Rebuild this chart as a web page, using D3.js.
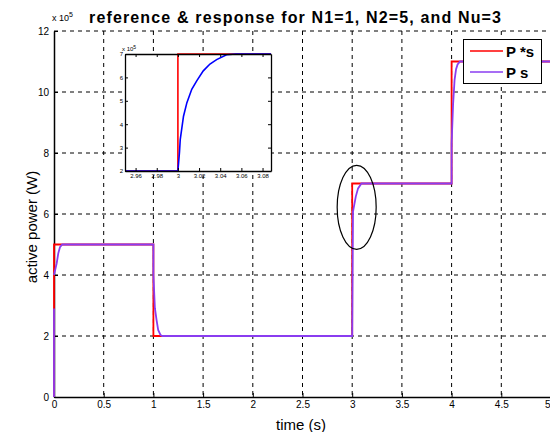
<!DOCTYPE html>
<html>
<head>
<meta charset="utf-8">
<script src="https://cdn.jsdelivr.net/npm/d3@7"></script>
<style>
  html, body { margin: 0; padding: 0; background: #fff; }
  svg { display: block; font-family: "Liberation Sans", Arial, sans-serif; }
</style>
</head>
<body>
<svg id="chart" width="550" height="432"></svg>
<script>
// Reference power step (P*s), in units of 1e5 W
const refTime  = [0, 0, 1, 1, 3, 3, 4, 4, 5];
const refPower = [0, 5, 5, 2, 2, 7, 7, 11, 11];

// Controlled response (Ps); the null splits the trace at start-up
const respTime  = [0, 0, null, 0, 0.027, 0.043, 0.06, 0.083, 1.0, 1.0, 1.015, 1.032, 1.048, 1.072, 1.09,
                   3.0, 3.008, 3.036, 3.059, 3.093, 4.0, 4.0, 4.015, 4.03, 4.045, 4.06, 4.085, 5];
const respPower = [0, 2.9, null, 4.0, 4.38, 4.71, 4.91, 5.0, 5.0, 4.0, 2.91, 2.52, 2.2, 2.03, 2.0,
                   2.0, 6.08, 6.57, 6.84, 7.0, 7.0, 8.3, 9.6, 10.4, 10.75, 10.9, 11.0, 11.0];

// Zoomed view around the step at t = 3 s
const zoomRefTime   = [2.95, 3.0, 3.0, 3.088];
const zoomRefPower  = [2, 2, 7, 7];
const zoomRespTime  = [2.95, 3.0, 3.0015, 3.0022, 3.0053, 3.0085, 3.0131, 3.0178, 3.024, 3.0303, 3.0366, 3.046, 3.055, 3.088];
const zoomRespPower = [2, 2, 2.8, 3.34, 4.34, 4.92, 5.49, 5.85, 6.28, 6.57, 6.76, 6.97, 7.0, 7.0];

// Tick values and labels
const xTicks = [0, 0.5, 1, 1.5, 2, 2.5, 3, 3.5, 4, 4.5, 5];
const yTicks = [0, 2, 4, 6, 8, 10, 12];
const zoomXTicks = [2.96, 2.98, 3, 3.02, 3.04, 3.06, 3.08];
const zoomYTicks = [2, 3, 4, 5, 6, 7];

const seriesNames = ["P *s", "P s"];
const titleText = "reference & response for N1=1, N2=5, and Nu=3";

// Highlighted region (ellipse centre in data units)
const markT = 3.045, markP = 6.22;

const svg = d3.select("#chart");
const mL = 54, mR = 551, mT = 31, mB = 397;
const x = d3.scaleLinear().domain([0, 5]).range([mL, mR]);
const y = d3.scaleLinear().domain([0, 12]).range([mB, mT]);

const RED = "#ff0000", PURPLE = "#8a3cf0", BLUE = "#0000ff";

svg.append("defs").append("clipPath").attr("id", "mainClip")
  .append("rect").attr("x", mL - 2).attr("y", mT - 2)
  .attr("width", mR - mL + 4).attr("height", mB - mT + 4);

// Dashed grid
const grid = svg.append("g");
grid.selectAll(".gx").data(xTicks.slice(1)).join("line")
  .attr("x1", d => x(d)).attr("x2", d => x(d))
  .attr("y1", y(12)).attr("y2", y(0))
  .attr("stroke", "#000").attr("stroke-width", 1).attr("stroke-dasharray", "4,4");
grid.selectAll(".gy").data(yTicks.slice(1)).join("line")
  .attr("x1", x(0)).attr("x2", x(5))
  .attr("y1", d => y(d)).attr("y2", d => y(d))
  .attr("stroke", "#000").attr("stroke-width", 1).attr("stroke-dasharray", "4,4");

// Axes
const fmt = d => String(d);
const xAxis = svg.append("g").attr("transform", `translate(0,${mB})`)
  .call(d3.axisBottom(x).tickValues(xTicks).tickFormat(fmt).tickSizeInner(-4).tickSizeOuter(0).tickPadding(4));
const yAxis = svg.append("g").attr("transform", `translate(${mL},0)`)
  .call(d3.axisLeft(y).tickValues(yTicks).tickFormat(fmt).tickSizeInner(-4).tickSizeOuter(0).tickPadding(5));
[xAxis, yAxis].forEach(g => {
  g.select(".domain").attr("stroke", "#000").attr("stroke-width", 1.5);
  g.selectAll(".tick line").attr("stroke", "#000");
  g.selectAll("text").attr("font-size", 10).attr("font-family", "Liberation Sans, Arial, sans-serif").attr("fill", "#000");
});
// last time label sits at the window edge; anchor it inward so it stays readable
xAxis.selectAll(".tick").filter(d => d === 5).select("text")
  .attr("text-anchor", "end").attr("x", -1);

// Data lines
const mainLine = d3.line()
  .defined(d => d[1] !== null)
  .x(d => x(d[0])).y(d => y(d[1]));
const plot = svg.append("g").attr("clip-path", "url(#mainClip)");
plot.append("path").datum(refTime.map((t, i) => [t, refPower[i]]))
  .attr("d", mainLine).attr("fill", "none").attr("stroke", RED).attr("stroke-width", 1.8);
plot.append("path").datum(respTime.map((t, i) => [t, respPower[i]]))
  .attr("d", mainLine).attr("fill", "none").attr("stroke", PURPLE).attr("stroke-width", 1.8);

// Ellipse marking the step at t = 3 s
svg.append("ellipse").attr("cx", x(markT)).attr("cy", y(markP))
  .attr("rx", 19.5).attr("ry", 42).attr("fill", "none").attr("stroke", "#000").attr("stroke-width", 1.2);

// Exponent label
const expo = svg.append("text").attr("x", 52).attr("y", 21).attr("font-size", 9).attr("fill", "#000");
expo.append("tspan").text("x 10");
expo.append("tspan").attr("dy", -4).attr("font-size", 7).text("5");

// Title
svg.append("text").attr("x", 89).attr("y", 23)
  .attr("textLength", 412).attr("lengthAdjust", "spacing")
  .attr("font-size", 16).attr("font-weight", "bold").attr("fill", "#000").text(titleText);

// Axis titles
svg.append("text").attr("x", 301).attr("y", 430).attr("text-anchor", "middle")
  .attr("font-size", 15).attr("fill", "#000").text("time (s)");
svg.append("text").attr("transform", "translate(37,227) rotate(-90)").attr("text-anchor", "middle")
  .attr("font-size", 15).attr("fill", "#000").text("active power (W)");

// Legend
const lg = svg.append("g");
lg.append("rect").attr("x", 463.5).attr("y", 39.5).attr("width", 78).attr("height", 44)
  .attr("fill", "#fff").attr("stroke", "#000").attr("stroke-width", 1);
[[RED, 51], [PURPLE, 72]].forEach(([c, ly], i) => {
  lg.append("line").attr("x1", 470).attr("x2", 503).attr("y1", ly).attr("y2", ly)
    .attr("stroke", c).attr("stroke-width", 1.5);
  lg.append("text").attr("x", 506).attr("y", ly + 6).attr("font-size", 15).attr("font-weight", "bold")
    .attr("fill", "#000").text(seriesNames[i]);
});

// Inset: zoom on the step at t = 3 s
const il = 125, ir = 271, it = 54, ib = 171;
const xi = d3.scaleLinear().domain([2.95, 3.088]).range([il, ir]);
const yi = d3.scaleLinear().domain([2, 7]).range([ib, it]);
const inset = svg.append("g");
inset.append("rect").attr("x", il).attr("y", it).attr("width", ir - il).attr("height", ib - it)
  .attr("fill", "#fff");
svg.select("defs").append("clipPath").attr("id", "insetClip")
  .append("rect").attr("x", il).attr("y", it - 1).attr("width", ir - il).attr("height", ib - it + 2);
const insetLine = d3.line().x(d => xi(d[0])).y(d => yi(d[1]));
const ip = inset.append("g").attr("clip-path", "url(#insetClip)");
ip.append("path").datum(zoomRefTime.map((t, i) => [t, zoomRefPower[i]]))
  .attr("d", insetLine).attr("fill", "none").attr("stroke", RED).attr("stroke-width", 1.6);
ip.append("path").datum(zoomRespTime.map((t, i) => [t, zoomRespPower[i]]))
  .attr("d", insetLine).attr("fill", "none").attr("stroke", BLUE).attr("stroke-width", 1.6);

const ix = inset.append("g").attr("transform", `translate(0,${ib})`)
  .call(d3.axisBottom(xi).tickValues(zoomXTicks).tickFormat(fmt).tickSizeInner(-3).tickSizeOuter(0).tickPadding(3));
const ixTop = inset.append("g").attr("transform", `translate(0,${it})`)
  .call(d3.axisTop(xi).tickValues(zoomXTicks).tickFormat("").tickSizeInner(-3).tickSizeOuter(0));
const iy = inset.append("g").attr("transform", `translate(${il},0)`)
  .call(d3.axisLeft(yi).tickValues(zoomYTicks).tickFormat(fmt).tickSizeInner(-3).tickSizeOuter(0).tickPadding(2));
const iyRight = inset.append("g").attr("transform", `translate(${ir},0)`)
  .call(d3.axisRight(yi).tickValues(zoomYTicks).tickFormat("").tickSizeInner(-3).tickSizeOuter(0));
[ix, ixTop, iy, iyRight].forEach(g => {
  g.select(".domain").attr("stroke", "#000").attr("stroke-width", 1.3);
  g.selectAll(".tick line").attr("stroke", "#000");
  g.selectAll("text").attr("font-size", 6).attr("font-family", "Liberation Sans, Arial, sans-serif").attr("fill", "#000");
});
const iexpo = inset.append("text").attr("x", il - 3).attr("y", it - 3).attr("font-size", 6).attr("fill", "#000");
iexpo.append("tspan").text("x 10");
iexpo.append("tspan").attr("dy", -2).attr("font-size", 5).text("5");
</script>
</body>
</html>
